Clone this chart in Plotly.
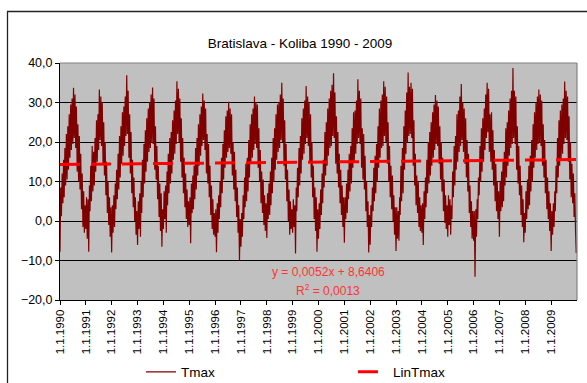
import pandas as pd
import plotly.graph_objects as go

# Daily maximum air temperature, Bratislava - Koliba, sampled on the 1st, 11th and 21st of each month
years = list(range(1990, 2010))

tmax_1990 = [-7.8, 8.5, 1.2, 12.0, 4.5, 15.5, 6.0, 18.5, 9.0, 22.0, 10.5, 24.0, 13.0, 27.0, 16.0, 29.5, 18.0, 31.0,
             19.5, 33.7, 21.0, 32.0, 18.5, 29.0, 12.5, 24.5, 10.0, 21.5, 8.0, 17.0, 3.0, 12.0, -1.5, 7.5, -3.0, 4.0]
tmax_1991 = [-2.0, 6.0, -4.5, 5.5, -7.8, 9.0, 2.5, 14.0, 5.0, 19.0, 7.5, 17.5, 9.0, 21.0, 12.5, 25.5, 15.0, 27.0,
             18.0, 33.3, 20.5, 31.5, 19.0, 30.0, 14.5, 25.0, 11.5, 20.0, 6.5, 15.0, 2.0, 10.0, -1.0, 6.0, -4.0, 3.5]
tmax_1992 = [-8.0, 4.0, -3.0, 6.5, -1.5, 9.5, 3.0, 13.0, 5.5, 17.0, 8.0, 21.5, 11.0, 24.0, 14.5, 27.5, 16.5, 29.0,
             19.0, 31.5, 21.5, 36.9, 22.0, 33.0, 16.0, 27.0, 12.0, 22.5, 7.0, 15.5, 3.5, 11.0, 0.0, 6.0, -3.5, 2.5]
tmax_1993 = [-6.1, 5.0, -2.0, 7.0, -4.0, 10.0, 2.0, 15.5, 6.0, 19.5, 9.5, 23.0, 12.5, 26.0, 15.0, 28.5, 17.5, 30.0,
             18.5, 32.0, 20.0, 33.8, 19.5, 31.0, 13.0, 24.0, 10.5, 19.0, 5.5, 14.0, 1.0, 9.5, -2.5, 7.0, -6.5, 3.0]
tmax_1994 = [-2.0, 7.5, 0.5, 9.0, -3.0, 12.5, 4.0, 17.0, 7.0, 21.0, 9.5, 22.5, 12.0, 25.5, 15.5, 28.0, 17.0, 30.5,
             19.5, 35.4, 22.0, 33.5, 20.0, 31.0, 15.0, 26.0, 11.0, 21.0, 7.0, 16.0, 3.5, 12.0, 0.5, 8.0, -1.5, 5.0]
tmax_1995 = [-1.0, 6.0, -5.6, 9.5, 2.0, 11.5, 3.0, 14.0, 5.5, 18.5, 8.0, 21.0, 11.5, 24.5, 14.0, 27.0, 16.5, 29.0,
             19.0, 32.3, 20.5, 30.5, 18.0, 28.5, 12.0, 22.0, 9.5, 19.5, 6.0, 14.0, 1.5, 9.0, -2.0, 5.5, -3.5, 2.0]
tmax_1996 = [-4.0, 3.0, -7.9, 4.5, -3.0, 6.5, 0.5, 10.0, 3.5, 16.0, 7.0, 19.5, 10.5, 23.0, 13.5, 26.5, 16.0, 28.0,
             17.5, 30.2, 18.5, 28.5, 17.0, 27.0, 11.5, 20.0, 8.0, 17.5, 5.0, 13.0, 1.0, 8.5, -3.0, 4.0, -10.0, 0.5]
tmax_1997 = [-6.5, 2.0, -4.0, 6.5, 0.5, 11.0, 3.5, 14.5, 5.0, 16.0, 7.5, 20.5, 11.0, 24.5, 14.5, 27.0, 16.0, 28.5,
             18.0, 31.5, 19.5, 30.0, 18.5, 29.5, 13.5, 23.5, 10.0, 18.0, 4.5, 12.5, 2.0, 10.5, -1.0, 6.5, -2.5, 4.5]
tmax_1998 = [-4.3, 7.0, 0.5, 9.5, 1.5, 12.5, 4.0, 16.0, 7.0, 21.0, 10.0, 23.5, 13.0, 27.0, 15.5, 29.5, 17.5, 30.0,
             18.5, 32.0, 20.5, 35.0, 20.0, 31.0, 14.0, 25.5, 10.5, 19.5, 5.0, 13.0, 0.0, 8.0, -3.5, 5.0, -2.0, 3.0]
tmax_1999 = [-3.0, 5.5, -1.5, 4.0, -8.2, 8.5, 2.5, 13.5, 6.0, 18.5, 9.0, 21.5, 12.0, 26.0, 15.5, 28.5, 17.0, 30.5,
             19.5, 34.2, 21.0, 31.5, 19.0, 30.0, 15.0, 27.0, 11.0, 20.0, 6.0, 14.0, 0.5, 8.5, -2.5, 6.0, -7.8, 3.0]
tmax_2000 = [-4.5, 4.5, -2.0, 8.0, 1.5, 12.0, 4.5, 15.5, 8.5, 22.5, 11.5, 25.0, 14.0, 28.5, 16.5, 31.0, 18.5, 33.0,
             19.0, 34.5, 21.5, 37.4, 21.0, 32.5, 14.5, 26.5, 12.0, 22.5, 8.5, 17.0, 4.5, 13.0, 1.5, 9.0, -1.5, 6.0]
tmax_2001 = [-5.5, 6.0, 0.5, 9.5, 2.0, 13.0, 5.5, 17.0, 7.5, 19.0, 9.5, 23.5, 13.5, 27.5, 15.0, 28.0, 17.0, 30.5,
             19.5, 35.9, 21.0, 33.0, 19.5, 31.0, 13.5, 23.5, 10.5, 22.0, 8.0, 16.5, 2.5, 10.0, -1.5, 5.0, -8.0, 1.5]
tmax_2002 = [-6.0, 4.0, -1.5, 8.5, 2.5, 13.5, 5.0, 16.5, 7.0, 19.5, 10.0, 24.0, 13.5, 28.5, 16.0, 30.5, 18.5, 32.0,
             19.0, 35.4, 21.5, 34.0, 20.0, 31.5, 14.5, 25.0, 10.0, 19.0, 6.0, 14.0, 3.0, 11.5, 0.0, 6.5, -3.5, 3.5]
tmax_2003 = [-7.6, 3.5, -4.5, 2.5, -5.0, 6.0, 1.5, 14.0, 5.0, 18.5, 7.0, 24.0, 13.0, 28.0, 17.0, 32.5, 20.0, 37.6,
             21.5, 34.0, 22.0, 35.0, 21.0, 33.5, 14.0, 25.5, 9.0, 17.0, 4.0, 11.5, 2.0, 10.0, -1.5, 6.0, -2.5, 4.0]
tmax_2004 = [-3.0, 4.5, -6.1, 7.5, 0.5, 11.0, 3.5, 15.5, 7.0, 20.0, 9.5, 22.5, 11.5, 25.0, 14.0, 27.5, 16.0, 29.5,
             18.0, 31.9, 19.5, 30.5, 19.0, 29.0, 14.5, 24.0, 10.5, 20.0, 7.5, 16.0, 2.5, 10.5, -0.5, 6.5, -2.0, 4.0]
tmax_2005 = [-4.0, 6.5, -1.0, 5.5, -3.5, 4.0, 0.5, 12.5, 6.0, 19.0, 9.0, 21.5, 13.0, 27.0, 15.0, 28.0, 17.5, 31.5,
             19.0, 34.7, 20.5, 30.0, 17.5, 28.5, 14.5, 26.0, 11.0, 20.5, 7.5, 17.0, 2.0, 9.0, -1.5, 5.0, -4.5, 2.5]
tmax_2006 = [-5.0, 2.5, -14.1, 3.0, -4.0, 5.5, 0.5, 11.0, 6.5, 19.0, 10.0, 23.5, 12.5, 26.0, 15.0, 28.5, 18.0, 32.0,
             21.0, 35.0, 22.5, 33.5, 17.5, 27.0, 15.0, 27.5, 13.0, 23.0, 9.0, 18.0, 5.0, 14.5, 2.5, 10.0, 0.5, 7.5]
tmax_2007 = [-4.0, 10.0, 2.5, 12.5, 3.5, 15.0, 5.0, 17.5, 9.0, 23.5, 11.0, 25.0, 14.0, 28.0, 16.5, 31.0, 18.5, 33.0,
             19.5, 38.7, 21.0, 33.0, 19.5, 31.5, 13.0, 24.0, 9.5, 19.0, 6.5, 14.0, 1.5, 9.0, -1.5, 5.5, -5.4, 2.0]
tmax_2008 = [-3.0, 7.5, 0.5, 10.5, 3.0, 14.0, 4.0, 16.5, 7.5, 20.5, 10.0, 24.5, 13.5, 27.5, 16.0, 30.0, 18.0, 31.5,
             19.5, 33.3, 20.0, 32.0, 19.0, 30.5, 14.0, 24.5, 11.0, 20.5, 7.0, 15.5, 3.0, 11.0, 0.5, 7.5, -2.5, 4.5]
tmax_2009 = [-7.6, 2.5, -3.5, 4.5, -1.5, 7.5, 2.5, 14.0, 7.0, 21.0, 11.0, 25.5, 14.0, 28.0, 15.5, 29.5, 17.0, 31.0,
             19.5, 35.3, 21.0, 33.0, 20.5, 31.5, 15.0, 26.5, 10.5, 20.0, 6.0, 14.5, 4.5, 12.0, 1.0, 7.0, -2.0, -8.1]

tmax_by_year = [tmax_1990, tmax_1991, tmax_1992, tmax_1993, tmax_1994, tmax_1995, tmax_1996,
                tmax_1997, tmax_1998, tmax_1999, tmax_2000, tmax_2001, tmax_2002, tmax_2003,
                tmax_2004, tmax_2005, tmax_2006, tmax_2007, tmax_2008, tmax_2009]

# Linear trend of Tmax over the period (start and end value)
lin_tmax = [14.3, 15.55]
lin_dates = ["1990-01-01", "2009-12-31"]

tick_labels = ["1.1.1990", "1.1.1991", "1.1.1992", "1.1.1993", "1.1.1994", "1.1.1995", "1.1.1996",
               "1.1.1997", "1.1.1998", "1.1.1999", "1.1.2000", "1.1.2001", "1.1.2002", "1.1.2003",
               "1.1.2004", "1.1.2005", "1.1.2006", "1.1.2007", "1.1.2008", "1.1.2009"]

dates, values = [], []
for year, vals in zip(years, tmax_by_year):
    for i, v in enumerate(vals):
        dates.append(pd.Timestamp(year, i // 3 + 1, (i % 3) * 10 + 1))
        values.append(v)

tick_vals = [pd.Timestamp(y, 1, 1) for y in years]

FONT = "Liberation Sans, Arial, sans-serif"

fig = go.Figure()
fig.add_trace(go.Scatter(
    x=dates, y=values, mode="lines", name="Tmax",
    line=dict(color="#800000", width=1.2),
))
fig.add_trace(go.Scatter(
    x=lin_dates, y=lin_tmax, mode="lines", name="LinTmax",
    line=dict(color="#FF0000", width=3, dash="20px,11px"),
))

L, R, T, B = 60, 10, 63, 83
W, H = 587, 383
pw, ph = W - L - R, H - T - B

def px_x(x):
    return (x - L) / pw

def px_y(y):
    return (H - B - y) / ph

fig.update_layout(
    width=W, height=H,
    margin=dict(l=L, r=R, t=T, b=B, autoexpand=False),
    paper_bgcolor="white",
    plot_bgcolor="#C0C0C0",
    separators=",.",
    font=dict(family=FONT, color="black", size=12),
    title=dict(text="Bratislava - Koliba 1990 - 2009", x=300 / W, xanchor="center",
               y=1 - 43 / H, yanchor="middle", font=dict(size=13.5, color="black")),
    showlegend=True,
    legend=dict(orientation="h", x=px_x(141), xanchor="left", y=px_y(372), yanchor="middle",
                entrywidth=167, font=dict(size=13.5), bgcolor="rgba(0,0,0,0)", traceorder="normal"),
    xaxis=dict(
        type="date", range=["1990-01-01", "2010-01-01"],
        tickvals=tick_vals, ticktext=tick_labels, tickangle=-90,
        ticks="outside", ticklen=4, tickcolor="black", tickfont=dict(size=11.5),
        showgrid=False, showline=True, linecolor="black", linewidth=1,
        zeroline=False, automargin=False,
    ),
    yaxis=dict(
        range=[-20, 40], dtick=10, tick0=0, tickformat=".1f",
        ticks="outside", ticklen=4, tickcolor="black", tickfont=dict(size=12.5),
        showgrid=True, gridcolor="black", gridwidth=1,
        showline=True, linecolor="black", linewidth=1,
        zeroline=False, automargin=False,
    ),
    annotations=[
        dict(text="y = 0,0052x + 8,6406", x=px_x(328), y=px_y(272), xref="paper", yref="paper",
             showarrow=False, font=dict(size=12, color="#FF3333"), xanchor="center", yanchor="middle"),
        dict(text="R<sup>2</sup> = 0,0013", x=px_x(328), y=px_y(290), xref="paper", yref="paper",
             showarrow=False, font=dict(size=12, color="#FF3333"), xanchor="center", yanchor="middle"),
    ],
    shapes=[
        # chart area frame
        dict(type="rect", xref="paper", yref="paper", x0=px_x(7.5), x1=px_x(600), y0=px_y(400), y1=px_y(11.5),
             line=dict(color="#222222", width=1.3), fillcolor="rgba(0,0,0,0)", layer="below"),
        # plot area border (top and right)
        dict(type="line", xref="paper", yref="paper", x0=0, x1=1, y0=1, y1=1,
             line=dict(color="#808080", width=1.2), layer="above"),
        dict(type="line", xref="paper", yref="paper", x0=1, x1=1, y0=0, y1=1,
             line=dict(color="#808080", width=1.2), layer="above"),
    ],
)

fig.write_html("out.html")
